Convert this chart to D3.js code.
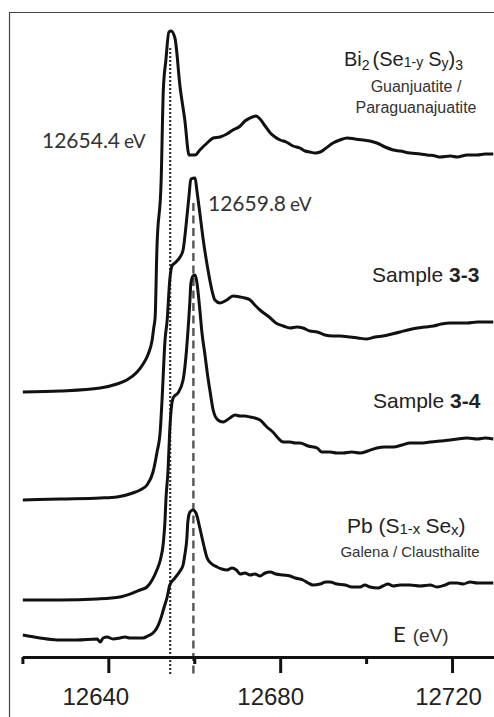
<!DOCTYPE html>
<html>
<head>
<meta charset="utf-8">
<script src="https://cdn.jsdelivr.net/npm/d3@7"></script>
<style>
  body { margin: 0; background: #fff; }
  svg { display: block; }
</style>
</head>
<body>
<svg id="chart" width="494" height="717"></svg>
<script>
// Bi L3-edge XANES, stacked spectra (energy in eV, intensity in a.u. incl. offset)
var bi2SeS3 = [
  [12620.1,2.65],[12628.8,2.66],[12638.1,2.69],[12642.0,2.73],[12644.3,2.77],[12646.7,2.85],
  [12648.1,2.93],[12649.2,3.02],[12650.2,3.17],[12650.6,3.30],[12650.9,3.40],[12651.3,4.07],
  [12652.3,4.77],[12652.8,5.67],[12653.4,5.97],[12654.1,6.25],[12654.6,6.26],[12655.5,6.19],
  [12656.7,5.70],[12657.8,5.37],[12658.8,5.02],[12660.2,5.02],[12661.3,5.07],[12663.0,5.14],
  [12664.4,5.19],[12666.0,5.20],[12667.6,5.23],[12669.0,5.27],[12670.7,5.31],[12671.8,5.36],
  [12673.0,5.39],[12674.4,5.41],[12675.3,5.38],[12676.5,5.31],[12677.7,5.24],[12678.8,5.20],
  [12680.0,5.17],[12681.4,5.15],[12683.0,5.11],[12684.6,5.09],[12685.8,5.06],[12686.9,5.05],
  [12688.1,5.04],[12689.3,5.05],[12690.4,5.08],[12692.3,5.14],[12693.9,5.17],[12695.6,5.19],
  [12697.4,5.18],[12699.3,5.17],[12700.9,5.16],[12702.5,5.14],[12704.4,5.10],[12706.3,5.07],
  [12707.9,5.06],[12710.2,5.04],[12712.6,5.03],[12714.2,5.02],[12716.1,5.01],[12717.2,5.00],
  [12719.6,5.01],[12721.2,5.00],[12723.5,5.02],[12725.9,5.02],[12727.7,5.03],[12729.6,5.03]
];

var sample33 = [
  [12620.1,1.57],[12628.8,1.58],[12638.1,1.59],[12642.0,1.60],[12645.7,1.64],[12647.4,1.67],
  [12649.0,1.72],[12650.4,1.85],[12651.3,2.04],[12652.1,2.27],[12652.5,2.57],[12653.2,3.17],
  [12653.7,3.37],[12654.3,3.77],[12654.8,3.91],[12655.5,3.94],[12656.7,4.00],[12657.4,4.07],
  [12658.1,4.32],[12658.8,4.62],[12659.2,4.78],[12660.2,4.79],[12660.6,4.67],[12661.3,4.44],
  [12662.0,4.20],[12663.2,3.87],[12664.1,3.67],[12664.8,3.57],[12666.0,3.54],[12667.6,3.57],
  [12669.0,3.61],[12670.7,3.60],[12671.8,3.59],[12673.0,3.57],[12674.1,3.52],[12675.3,3.47],
  [12676.5,3.43],[12677.7,3.39],[12679.0,3.34],[12680.7,3.31],[12682.3,3.29],[12683.9,3.30],
  [12685.3,3.29],[12686.9,3.26],[12688.6,3.25],[12690.4,3.22],[12692.3,3.21],[12693.9,3.21],
  [12696.3,3.20],[12698.1,3.19],[12700.2,3.18],[12702.1,3.20],[12703.9,3.21],[12706.0,3.23],
  [12707.9,3.25],[12709.7,3.27],[12711.9,3.29],[12713.7,3.30],[12715.7,3.31],[12717.5,3.33],
  [12719.6,3.34],[12721.9,3.34],[12723.5,3.34],[12725.9,3.35],[12729.6,3.35]
];

var sample34 = [
  [12620.1,0.57],[12628.8,0.57],[12637.4,0.58],[12642.7,0.60],[12645.7,0.64],[12647.4,0.67],
  [12649.0,0.70],[12650.2,0.77],[12651.3,0.87],[12652.1,0.97],[12652.8,1.14],[12653.2,1.37],
  [12653.4,1.57],[12653.9,1.87],[12654.3,2.27],[12654.8,2.54],[12655.2,2.60],[12656.2,2.64],
  [12657.4,2.77],[12658.1,3.02],[12658.5,3.24],[12659.0,3.57],[12659.2,3.73],[12659.7,3.81],
  [12660.2,3.82],[12660.6,3.75],[12661.3,3.47],[12661.8,3.24],[12662.5,3.02],[12663.0,2.85],
  [12663.7,2.65],[12664.4,2.47],[12665.5,2.37],[12666.7,2.35],[12668.3,2.39],[12669.5,2.42],
  [12670.7,2.41],[12671.8,2.41],[12673.0,2.40],[12674.1,2.39],[12675.3,2.37],[12676.9,2.30],
  [12678.3,2.25],[12679.5,2.19],[12680.7,2.15],[12682.3,2.15],[12683.5,2.14],[12684.6,2.14],
  [12686.5,2.11],[12688.6,2.09],[12689.7,2.05],[12691.6,2.05],[12693.2,2.04],[12694.6,2.04],
  [12696.7,2.05],[12698.6,2.04],[12700.4,2.06],[12702.5,2.09],[12704.4,2.10],[12706.3,2.10],
  [12708.4,2.12],[12710.2,2.14],[12712.6,2.14],[12714.9,2.15],[12717.2,2.16],[12719.6,2.17],
  [12721.2,2.18],[12723.5,2.19],[12725.9,2.18],[12727.7,2.19],[12729.6,2.18]
];

var pbSSe = [
  [12620.1,0.22],[12624.1,0.19],[12628.1,0.17],[12632.7,0.17],[12637.4,0.18],[12638.1,0.15],
  [12638.8,0.19],[12639.7,0.20],[12641.1,0.18],[12642.7,0.19],[12643.9,0.20],[12645.0,0.19],
  [12646.7,0.19],[12648.1,0.19],[12649.2,0.21],[12650.4,0.24],[12651.3,0.29],[12652.1,0.37],
  [12653.0,0.50],[12653.7,0.60],[12654.3,0.72],[12655.5,0.79],[12656.7,0.86],[12657.4,0.92],
  [12657.8,1.02],[12658.3,1.20],[12658.5,1.35],[12659.0,1.45],[12659.7,1.47],[12660.4,1.44],
  [12661.3,1.29],[12662.2,1.12],[12663.0,0.99],[12664.1,0.93],[12665.3,0.90],[12666.4,0.88],
  [12667.6,0.87],[12668.8,0.89],[12669.8,0.87],[12670.7,0.83],[12671.8,0.84],[12673.0,0.82],
  [12674.1,0.83],[12675.3,0.81],[12676.5,0.84],[12677.7,0.85],[12679.0,0.83],[12680.7,0.82],
  [12682.3,0.81],[12683.5,0.79],[12685.3,0.77],[12686.5,0.74],[12687.6,0.72],[12689.3,0.73],
  [12690.6,0.75],[12691.6,0.75],[12693.2,0.73],[12695.1,0.72],[12696.7,0.70],[12698.6,0.70],
  [12699.7,0.72],[12700.9,0.70],[12702.8,0.69],[12703.9,0.71],[12705.1,0.73],[12706.3,0.71],
  [12707.9,0.72],[12710.2,0.72],[12712.6,0.71],[12714.9,0.72],[12716.5,0.70],[12718.4,0.72],
  [12719.6,0.74],[12721.2,0.74],[12722.6,0.73],[12724.2,0.75],[12725.9,0.74],[12727.7,0.74],
  [12729.6,0.74]
];

var majorTicks = [12640, 12680, 12720];
var minorTicks = [12620, 12660, 12700];
var edgeBi = 12654.4;      // dotted line
var edgeSample = 12659.8;  // dashed line

var ARIAL = "'Liberation Sans', Arial, sans-serif";
var CALIBRI = "Lato, 'Open Sans', sans-serif";

var svg = d3.select("#chart");
var W = 494, H = 717;

svg.append("rect").attr("width", W).attr("height", H).attr("fill", "#fff");

var x = d3.scaleLinear().domain([12620, 12730]).range([22.4, 495]);
var y = d3.scaleLinear().domain([0, 6.4]).range([657, 17]);

// frame (cropped on right and bottom)
svg.append("path")
    .attr("d", "M9.5," + H + "V12.5H" + W)
    .attr("fill", "none")
    .attr("stroke", "#444")
    .attr("stroke-width", 1.2);

// edge position guide lines
svg.append("line")
    .attr("x1", x(edgeBi)).attr("x2", x(edgeBi))
    .attr("y1", y(6.09)).attr("y2", y(-0.18))
    .attr("stroke", "#333").attr("stroke-width", 2.2)
    .attr("stroke-dasharray", "2,2");

svg.append("line")
    .attr("x1", x(edgeSample)).attr("x2", x(edgeSample))
    .attr("y1", y(4.54)).attr("y2", y(-0.18))
    .attr("stroke", "#555").attr("stroke-width", 2.4)
    .attr("stroke-dasharray", "8,4.5");

var line = d3.line()
    .x(function(d) { return x(d[0]); })
    .y(function(d) { return y(d[1]); })
    .curve(d3.curveMonotoneX);

[bi2SeS3, sample33, sample34, pbSSe].forEach(function(s) {
    svg.append("path")
        .datum(s)
        .attr("d", line)
        .attr("fill", "none")
        .attr("stroke", "#111")
        .attr("stroke-width", 3)
        .attr("stroke-linejoin", "round");
});

// x axis: minor ticks first, then major ticks with labels
var minorAxis = svg.append("g")
    .attr("transform", "translate(0," + y(0) + ")")
    .call(d3.axisBottom(x).tickValues(minorTicks).tickSize(7).tickSizeOuter(0).tickFormat(""));

var majorAxis = svg.append("g")
    .attr("transform", "translate(0," + y(0) + ")")
    .call(d3.axisBottom(x).tickValues(majorTicks).tickSize(16).tickSizeOuter(0).tickPadding(15).tickFormat(d3.format("d")));

[minorAxis, majorAxis].forEach(function(g) {
    g.select(".domain").attr("stroke", "#111").attr("stroke-width", 3);
    g.selectAll(".tick line").attr("stroke", "#111").attr("stroke-width", 3);
});
majorAxis.attr("font-family", ARIAL).attr("font-size", 24);
// labels in the original sit a little left of their ticks
var labelShift = [-13, -10, -4];
majorAxis.selectAll(".tick text")
    .attr("fill", "#222")
    .attr("dx", function(d, i) { return labelShift[i]; });

// annotations
function label(xp, yp, size, family, fill) {
    return svg.append("text")
        .attr("x", xp).attr("y", yp)
        .attr("font-family", family)
        .attr("font-size", size)
        .attr("fill", fill || "#222");
}

var t1 = label(42, 148, 21, CALIBRI, "#333");
t1.append("tspan").text("12654.4");
t1.append("tspan").attr("font-size", 19).attr("dx", 4).text("eV");

var t2 = label(208, 211, 21, CALIBRI, "#333");
t2.append("tspan").text("12659.8");
t2.append("tspan").attr("font-size", 19).attr("dx", 4).text("eV");

var bi = label(344, 66, 20, ARIAL);
bi.append("tspan").text("Bi");
bi.append("tspan").attr("font-size", 14).attr("dy", 4).text("2");
bi.append("tspan").attr("dy", -4).attr("dx", 3).text("(Se");
bi.append("tspan").attr("font-size", 14).attr("dy", 1).text("1-y");
bi.append("tspan").attr("dy", -1).attr("dx", 5).text("S");
bi.append("tspan").attr("font-size", 14).attr("dy", 2).text("y");
bi.append("tspan").attr("dy", -2).text(")");
bi.append("tspan").attr("font-size", 14).attr("dy", 4).text("3");

label(416, 92, 16, ARIAL, "#333").attr("text-anchor", "middle").text("Guanjuatite  /");
label(416, 113, 16, ARIAL, "#333").attr("text-anchor", "middle").text("Paraguanajuatite");

var s3 = label(372, 282, 21, ARIAL);
s3.append("tspan").text("Sample ");
s3.append("tspan").attr("font-weight", "bold").text("3-3");

var s4 = label(373, 408, 21, ARIAL);
s4.append("tspan").text("Sample ");
s4.append("tspan").attr("font-weight", "bold").text("3-4");

var pb = label(347, 533, 21, ARIAL);
pb.append("tspan").text("Pb (S");
pb.append("tspan").attr("font-size", 15).attr("dy", 1).text("1-x");
pb.append("tspan").attr("dy", -1).attr("dx", 5).text("Se");
pb.append("tspan").attr("font-size", 15).attr("dy", 2).text("x");
pb.append("tspan").attr("dy", -2).text(")");

label(410, 557, 15, ARIAL, "#333").attr("text-anchor", "middle").text("Galena / Clausthalite");

var ax = label(393, 642, 22, CALIBRI);
ax.append("tspan").text("E");
ax.append("tspan").attr("font-family", ARIAL).attr("font-size", 19).attr("dx", 7).attr("fill", "#333").text("(eV)");
</script>
</body>
</html>
